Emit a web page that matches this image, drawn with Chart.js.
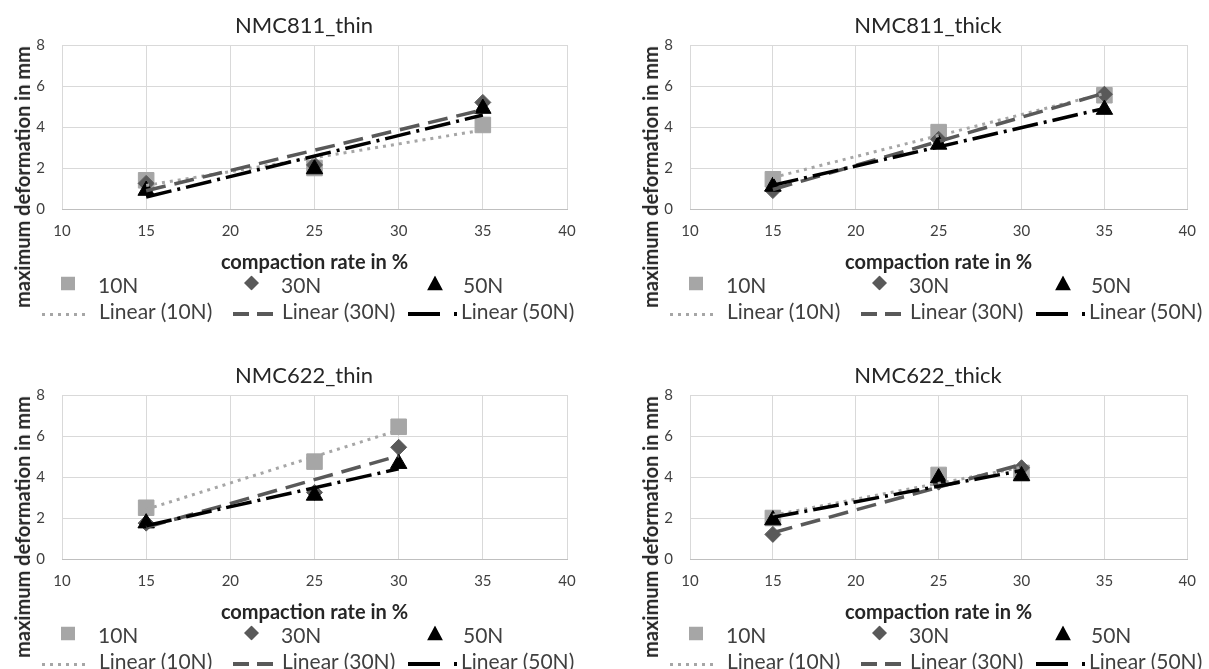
<!DOCTYPE html>
<html lang="en">
<head>
<meta charset="UTF-8" />
<title>Maximum deformation vs compaction rate</title>
<style>
  * { box-sizing: border-box; }
  body {
    margin: 0;
    width: 1209px;
    height: 669px;
    overflow: hidden;
    position: relative;
    background: #fff;
    font-family: Lato, 'Open Sans', sans-serif;
  }
  canvas { position: absolute; }
  .ctitle {
    position: absolute;
    font-size: 22px;
    line-height: 1;
    color: #262626;
    white-space: nowrap;
    transform: translate(-50%, -50%);
  }
  .ytitle {
    position: absolute;
    font-weight: 700;
    font-size: 20px;
    color: #262626;
    white-space: nowrap;
    transform: translate(-50%, -50%) rotate(-90deg);
  }
  .lg {
    position: absolute;
    font-size: 21px;
    line-height: 1;
    color: #404040;
    white-space: nowrap;
    transform: translateY(-50%);
  }
  .sym {
    position: absolute;
    transform: translateY(-50%);
    display: block;
  }
</style>
</head>
<body>
<script src="https://cdn.jsdelivr.net/npm/chart.js"></script>
<script>
  // compaction rates (x)
  const xNMC811 = [15, 25, 35];
  const xNMC622 = [15, 25, 30];

  // maximum deformation in mm
  const thin811_10N = [1.4, 2.0, 4.1];
  const thin811_30N = [1.25, 2.15, 5.2];
  const thin811_50N = [0.9, 1.95, 4.9];

  const thick811_10N = [1.45, 3.75, 5.55];
  const thick811_30N = [0.9, 3.4, 5.6];
  const thick811_50N = [1.1, 3.15, 4.85];

  const thin622_10N = [2.5, 4.75, 6.45];
  const thin622_30N = [1.75, 3.25, 5.45];
  const thin622_50N = [1.75, 3.1, 4.65];

  const thick622_10N = [2.0, 4.1, 4.2];
  const thick622_30N = [1.2, 3.75, 4.45];
  const thick622_50N = [1.9, 3.95, 4.05];

  const seriesNames = ['10N', '30N', '50N'];
  const xAxisRange = [10, 40, 5];
  const yAxisRange = [0, 8, 2];
  const xTitle = 'compaction rate in %';
  const yTitle = 'maximum deformation in mm';

  // look of the three series
  const markerStyle = [
    { shape: 'rect', radius: 11, color: '#a6a6a6' },
    { shape: 'rectRot', radius: 8, color: '#595959' },
    { shape: 'triangle', radius: 9.5, color: '#000000' }
  ];
  const trendStyle = [
    { color: '#a6a6a6', dash: [3, 5], width: 3 },
    { color: '#595959', dash: [20, 9], width: 3.5 },
    { color: '#000000', dash: [26, 6, 3, 6], width: 3.5 }
  ];

  // where each chart sits on the page
  const panels = [
    { title: 'NMC811_thin', xs: xNMC811, ys: [thin811_10N, thin811_30N, thin811_50N],
      left: 0, top: 0, plotL: 62, plotR: 567, titleX: 304, dx: 0 },
    { title: 'NMC811_thick', xs: xNMC811, ys: [thick811_10N, thick811_30N, thick811_50N],
      left: 605, top: 0, plotL: 690, plotR: 1196, titleX: 928, dx: 628 },
    { title: 'NMC622_thin', xs: xNMC622, ys: [thin622_10N, thin622_30N, thin622_50N],
      left: 0, top: 350, plotL: 62, plotR: 567, titleX: 304, dx: 0 },
    { title: 'NMC622_thick', xs: xNMC622, ys: [thick622_10N, thick622_30N, thick622_50N],
      left: 605, top: 350, plotL: 690, plotR: 1196, titleX: 928, dx: 628 }
  ];

  const CW = 604, CH = 285;

  Chart.defaults.font.family = 'Lato';

  // least squares line, drawn over the data range like the Excel trendline
  function linearTrend(xs, ys) {
    const n = xs.length;
    const mx = xs.reduce((a, b) => a + b, 0) / n;
    const my = ys.reduce((a, b) => a + b, 0) / n;
    let sxy = 0, sxx = 0;
    for (let i = 0; i < n; i++) {
      sxy += (xs[i] - mx) * (ys[i] - my);
      sxx += (xs[i] - mx) * (xs[i] - mx);
    }
    const k = sxy / sxx;
    const x0 = Math.min(...xs), x1 = Math.max(...xs);
    return [{ x: x0, y: my + k * (x0 - mx) }, { x: x1, y: my + k * (x1 - mx) }];
  }

  function buildChart(p) {
    const cv = document.createElement('canvas');
    cv.width = CW; cv.height = CH;
    cv.style.left = p.left + 'px';
    cv.style.top = p.top + 'px';
    document.body.appendChild(cv);

    const padL = 8;
    const padR = CW - (p.plotR - p.left);
    const yW = (p.plotL - p.left) - padL;

    const datasets = [];
    p.ys.forEach((ys, i) => {
      const m = markerStyle[i];
      datasets.push({
        label: seriesNames[i],
        data: p.xs.map((x, j) => ({ x: x, y: ys[j] })),
        showLine: false,
        pointStyle: m.shape,
        pointRadius: m.radius,
        pointBackgroundColor: m.color,
        pointBorderColor: m.color,
        pointBorderWidth: 1,
        order: 6 - i
      });
    });
    p.ys.forEach((ys, i) => {
      const t = trendStyle[i];
      datasets.push({
        label: 'Linear (' + seriesNames[i] + ')',
        data: linearTrend(p.xs, ys),
        showLine: true,
        borderColor: t.color,
        borderWidth: t.width,
        borderDash: t.dash,
        pointRadius: 0,
        order: 3 - i
      });
    });

    new Chart(cv, {
      type: 'scatter',
      data: { datasets: datasets },
      options: {
        responsive: false,
        animation: false,
        events: [],
        layout: { padding: { left: padL, right: padR, top: 45, bottom: 10 } },
        plugins: {
          legend: { display: false },
          tooltip: { enabled: false },
          title: { display: false }
        },
        scales: {
          x: {
            type: 'linear',
            min: xAxisRange[0], max: xAxisRange[1],
            ticks: { stepSize: xAxisRange[2], padding: 13, color: '#404040', font: { size: 15 } },
            grid: { color: '#d9d9d9', drawTicks: false },
            border: { color: '#bfbfbf', width: 1 },
            title: { display: true, text: xTitle, color: '#262626', font: { size: 20, weight: 'bold' }, padding: 0 },
            afterFit: s => { s.height = 66; }
          },
          y: {
            min: yAxisRange[0], max: yAxisRange[1],
            ticks: { stepSize: yAxisRange[2], padding: 17, color: '#404040', font: { size: 15 } },
            grid: { color: '#d9d9d9', drawTicks: false },
            border: { display: false },
            afterFit: s => { s.width = yW; }
          }
        }
      }
    });
  }

  function addEl(html, cls, x, y) {
    const d = document.createElement('div');
    d.className = cls;
    d.style.left = x + 'px';
    d.style.top = y + 'px';
    d.innerHTML = html;
    document.body.appendChild(d);
    return d;
  }

  const svgSquare = '<svg width="14" height="14"><rect width="14" height="14" fill="#a6a6a6"/></svg>';
  const svgDiamond = '<svg width="15" height="15"><polygon points="7.5,0 15,7.5 7.5,15 0,7.5" fill="#595959"/></svg>';
  const svgTriangle = '<svg width="16" height="15"><polygon points="8,0 16,15 0,15" fill="#000"/></svg>';
  const svgDotted = '<svg width="48" height="4"><line x1="0" y1="2" x2="48" y2="2" stroke="#a6a6a6" stroke-width="3" stroke-dasharray="3 5"/></svg>';
  const svgDashed = '<svg width="40" height="5"><line x1="0" y1="2.5" x2="40" y2="2.5" stroke="#595959" stroke-width="4" stroke-dasharray="16 8"/></svg>';
  const svgDashDot = '<svg width="50" height="5"><line x1="0" y1="2.5" x2="50" y2="2.5" stroke="#000" stroke-width="4" stroke-dasharray="32 14 3 10"/></svg>';

  function buildLabels(p) {
    const r1 = p.top + 284, r2 = p.top + 310, dx = p.dx;
    addEl(p.title, 'ctitle', p.titleX, p.top + 25);

    addEl(svgSquare, 'sym', dx + 61, r1);
    addEl(seriesNames[0], 'lg', dx + 98, r1);
    addEl(svgDiamond, 'sym', dx + 244, r1);
    addEl(seriesNames[1], 'lg', dx + 281, r1);
    addEl(svgTriangle, 'sym', dx + 427, r1);
    addEl(seriesNames[2], 'lg', dx + 463, r1);

    addEl(svgDotted, 'sym', dx + 42, r2);
    addEl('Linear (' + seriesNames[0] + ')', 'lg', dx + 99, r2);
    addEl(svgDashed, 'sym', dx + 233, r2);
    addEl('Linear (' + seriesNames[1] + ')', 'lg', dx + 282, r2);
    addEl(svgDashDot, 'sym', dx + 408, r2);
    addEl('Linear (' + seriesNames[2] + ')', 'lg', dx + 461, r2);

    addEl(yTitle, 'ytitle', dx + 22, p.top + 177);
  }

  panels.forEach(p => { buildChart(p); buildLabels(p); });
</script>
</body>
</html>
